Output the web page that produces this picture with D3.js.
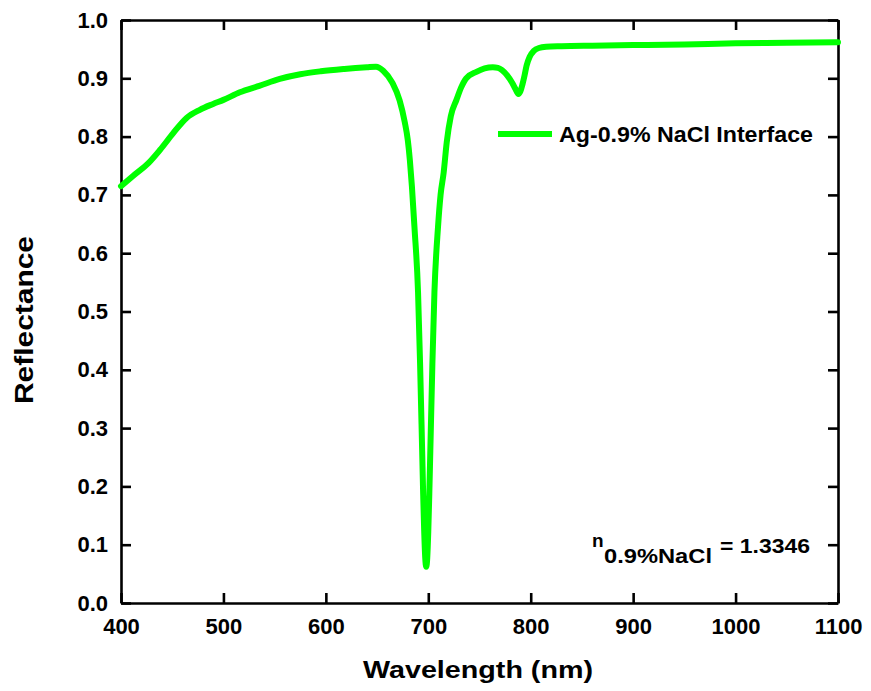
<!DOCTYPE html>
<html><head><meta charset="utf-8">
<script src="https://cdn.jsdelivr.net/npm/d3@7"></script>
<style>body{margin:0;background:#fff;} text{font-family:"Liberation Sans",Arial,sans-serif;font-weight:bold;}</style>
</head><body>
<svg id="c" width="871" height="691"></svg>
<script>
const wavelength = [400,412,427,438,451,464,477,490,500,516,535,555,575,595,618,640,649,656,665,672,677,680,682,684,686.5,690,692,694,695,696,697,698,699,700,701,702,704,706,709.5,712,715,718,722,727.5,732,737,747,755,763,768,772,777,782,785,788,790,792,794,796,799,803,808,815,830,860,900,950,1000,1050,1100];
const reflectance = [0.715,0.733,0.755,0.777,0.806,0.832,0.846,0.856,0.863,0.876,0.887,0.899,0.907,0.912,0.916,0.919,0.920,0.913,0.892,0.862,0.825,0.794,0.760,0.715,0.645,0.533,0.410,0.262,0.187,0.123,0.078,0.062,0.078,0.123,0.187,0.262,0.410,0.533,0.645,0.700,0.738,0.790,0.835,0.863,0.884,0.900,0.911,0.917,0.919,0.918,0.914,0.905,0.892,0.882,0.873,0.878,0.890,0.905,0.922,0.937,0.947,0.952,0.954,0.955,0.956,0.957,0.958,0.960,0.961,0.962];
const xTicks = [400,500,600,700,800,900,1000,1100];
const yTicks = [0.0,0.1,0.2,0.3,0.4,0.5,0.6,0.7,0.8,0.9,1.0];
const seriesName = "Ag-0.9% NaCl Interface";

const svg = d3.select("#c");
const L=121, R=838, T=20, B=603;
const x = d3.scaleLinear().domain([400,1100]).range([L,R]);
const y = d3.scaleLinear().domain([0,1]).range([B,T]);

function styleAxis(g){
  g.selectAll("path").attr("stroke","#000").attr("stroke-width",2.6);
  g.selectAll("line").attr("stroke","#000").attr("stroke-width",2.6);
  g.selectAll("text").attr("fill","#000").style("font-size","22px").style("font-weight","bold").style("font-family","'Liberation Sans',Arial,sans-serif");
}
svg.append("g").attr("transform",`translate(0,${B})`)
  .call(d3.axisBottom(x).tickValues(xTicks).tickSizeInner(-10).tickSizeOuter(0).tickPadding(15).tickFormat(d3.format("d")))
  .call(styleAxis);
svg.append("g").attr("transform",`translate(0,${T})`)
  .call(d3.axisTop(x).tickValues(xTicks).tickSizeInner(-10).tickSizeOuter(0).tickFormat(""))
  .call(styleAxis);
svg.append("g").attr("transform",`translate(${L},0)`)
  .call(d3.axisLeft(y).tickValues(yTicks).tickSizeInner(-10).tickSizeOuter(0).tickPadding(13).tickFormat(d3.format(".1f")))
  .call(styleAxis);
svg.append("g").attr("transform",`translate(${R},0)`)
  .call(d3.axisRight(y).tickValues(yTicks).tickSizeInner(-10).tickSizeOuter(0).tickFormat(""))
  .call(styleAxis);

const data = wavelength.map((w,i)=>[w,reflectance[i]]);
svg.append("path").datum(data)
  .attr("fill","none").attr("stroke","#00ff00").attr("stroke-width",6).attr("stroke-linejoin","round").attr("stroke-linecap","round")
  .attr("d", d3.line().x(d=>x(d[0])).y(d=>y(d[1])).curve(d3.curveMonotoneX));

// legend
svg.append("line").attr("x1",498).attr("x2",552).attr("y1",134).attr("y2",134).attr("stroke","#00ff00").attr("stroke-width",6);
svg.append("text").attr("x",559).attr("y",142).style("font-size","22px").attr("textLength",254).attr("lengthAdjust","spacingAndGlyphs").text(seriesName);

// annotation
svg.append("text").attr("x",592).attr("y",547).style("font-size","19px").text("n");
svg.append("text").attr("x",604).attr("y",563).style("font-size","21px").attr("textLength",108).attr("lengthAdjust","spacingAndGlyphs").text("0.9%NaCl");
svg.append("text").attr("x",720).attr("y",553).style("font-size","21px").attr("textLength",90).attr("lengthAdjust","spacingAndGlyphs").text("= 1.3346");

// axis titles
svg.append("text").attr("x",478).attr("y",678).attr("text-anchor","middle").style("font-size","24px").attr("textLength",230).attr("lengthAdjust","spacingAndGlyphs").text("Wavelength (nm)");
svg.append("text").attr("transform","translate(33,320) rotate(-90)").attr("text-anchor","middle").style("font-size","25px").attr("textLength",168).attr("lengthAdjust","spacingAndGlyphs").text("Reflectance");
</script>
</body></html>
